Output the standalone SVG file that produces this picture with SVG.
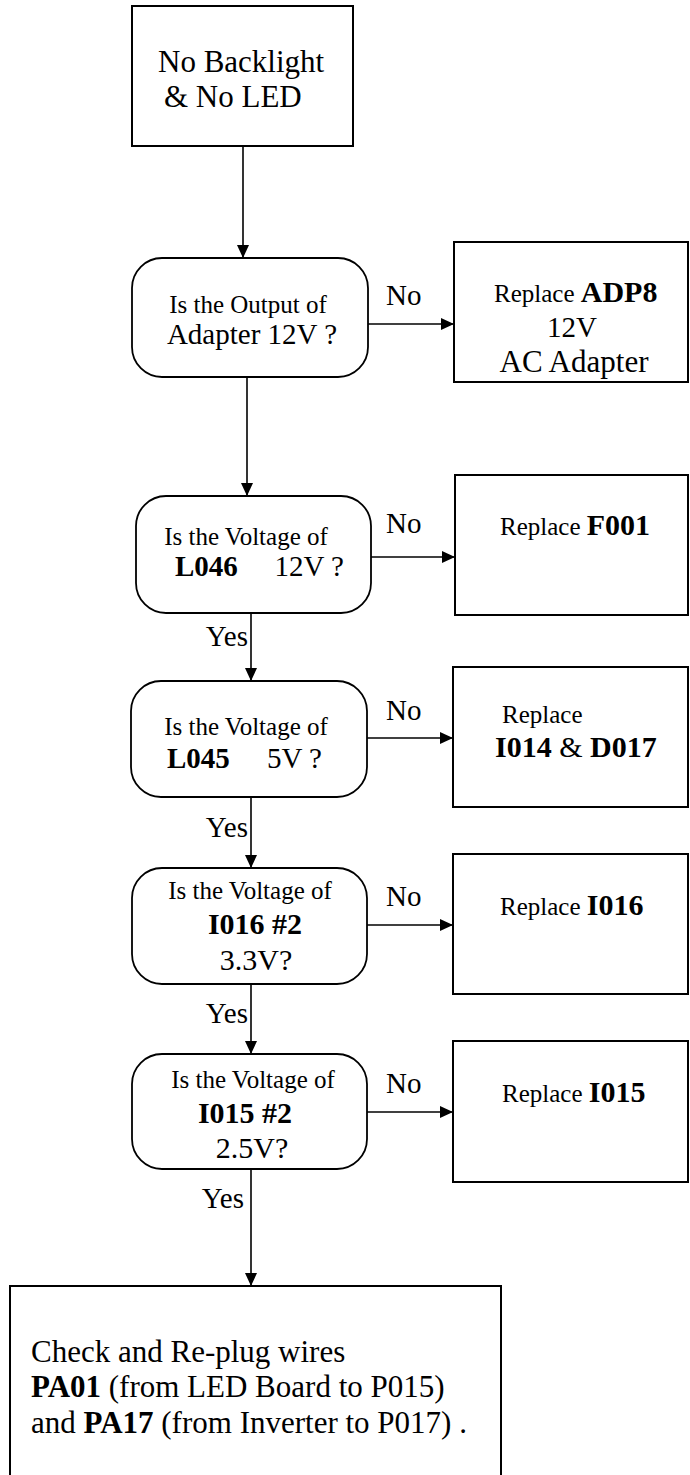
<svg xmlns="http://www.w3.org/2000/svg" width="690" height="1475" viewBox="0 0 690 1475">
<style>
text { font-family: "Liberation Serif", "Times New Roman", serif; fill: #000; }
.s { font-size: 25px; }
.m { font-size: 29px; }
.l { font-size: 31px; }
.b { font-weight: bold; }
.box { fill: #fff; stroke: #000; stroke-width: 2; }
.dec { fill: #fff; stroke: #000; stroke-width: 1.8; }
.edge { fill: none; stroke: #000; stroke-width: 1.6; }
</style>
<defs>
<marker id="ah" markerUnits="userSpaceOnUse" markerWidth="14" markerHeight="12" refX="13" refY="6" orient="auto">
<path d="M0,0 L13,6 L0,12 Z" fill="#000"/>
</marker>
</defs>
<rect width="690" height="1475" fill="#fff"/>

<g id="connectors">
<line class="edge" x1="243" y1="146" x2="243" y2="258" marker-end="url(#ah)"/>
<line class="edge" x1="368" y1="324" x2="454" y2="324" marker-end="url(#ah)"/>
<line class="edge" x1="247" y1="377" x2="247" y2="496" marker-end="url(#ah)"/>
<line class="edge" x1="371" y1="557" x2="455" y2="557" marker-end="url(#ah)"/>
<line class="edge" x1="251" y1="613" x2="251" y2="681" marker-end="url(#ah)"/>
<line class="edge" x1="367" y1="738" x2="453" y2="738" marker-end="url(#ah)"/>
<line class="edge" x1="251" y1="797" x2="251" y2="868" marker-end="url(#ah)"/>
<line class="edge" x1="367" y1="925" x2="453" y2="925" marker-end="url(#ah)"/>
<line class="edge" x1="251" y1="984" x2="251" y2="1054" marker-end="url(#ah)"/>
<line class="edge" x1="367" y1="1112" x2="453" y2="1112" marker-end="url(#ah)"/>
<line class="edge" x1="251" y1="1169" x2="251" y2="1286" marker-end="url(#ah)"/>
<text class="m" x="386" y="305">No</text>
<text class="m" x="386" y="533">No</text>
<text class="m" x="386" y="720">No</text>
<text class="m" x="386" y="906">No</text>
<text class="m" x="386" y="1093">No</text>
<text class="m" x="248" y="646" text-anchor="end">Yes</text>
<text class="m" x="248" y="837" text-anchor="end">Yes</text>
<text class="m" x="248" y="1023" text-anchor="end">Yes</text>
<text class="m" x="244" y="1208" text-anchor="end">Yes</text>
</g>

<g id="start">
<rect class="box" x="132" y="6" width="221" height="140"/>
<text class="l" x="158" y="72">No Backlight</text>
<text class="l" x="164" y="107">&amp; No LED</text>
</g>

<g id="q-adapter">
<rect class="dec" x="132" y="258" width="236" height="119" rx="30" ry="30"/>
<text class="s" x="248" y="313" text-anchor="middle">Is the Output of</text>
<text class="m" x="252" y="344" text-anchor="middle">Adapter 12V ?</text>
</g>

<g id="r-adapter">
<rect class="box" x="454" y="242" width="234" height="140"/>
<text x="494" y="302"><tspan class="s">Replace </tspan><tspan class="m b" style="font-size:30px">ADP8</tspan></text>
<text class="m" x="572" y="337" text-anchor="middle">12V</text>
<text class="m" x="574" y="372" text-anchor="middle" style="font-size:31px">AC Adapter</text>
</g>

<g id="q-l046">
<rect class="dec" x="136" y="496" width="235" height="117" rx="30" ry="30"/>
<text class="s" x="246" y="545" text-anchor="middle">Is the Voltage of</text>
<text class="m b" x="175" y="576">L046</text>
<text class="m" x="344" y="576" text-anchor="end">12V ?</text>
</g>

<g id="r-f001">
<rect class="box" x="455" y="475" width="233" height="140"/>
<text x="500" y="535"><tspan class="s">Replace </tspan><tspan class="m b" style="font-size:30px">F001</tspan></text>
</g>

<g id="q-l045">
<rect class="dec" x="131" y="681" width="236" height="116" rx="30" ry="30"/>
<text class="s" x="246" y="735" text-anchor="middle">Is the Voltage of</text>
<text class="m b" x="167" y="768">L045</text>
<text class="m" x="322" y="768" text-anchor="end">5V ?</text>
</g>

<g id="r-i014">
<rect class="box" x="453" y="667" width="235" height="140"/>
<text class="s" x="502" y="723">Replace</text>
<text x="495" y="757" style="font-size:30px"><tspan class="b">I014</tspan> &amp; <tspan class="b">D017</tspan></text>
</g>

<g id="q-i016">
<rect class="dec" x="132" y="868" width="235" height="116" rx="30" ry="30"/>
<text class="s" x="250" y="899" text-anchor="middle">Is the Voltage of</text>
<text class="m b" x="255" y="934" text-anchor="middle" style="font-size:30px">I016 #2</text>
<text class="m" x="256" y="970" text-anchor="middle" style="font-size:30px">3.3V?</text>
</g>

<g id="r-i016">
<rect class="box" x="453" y="854" width="235" height="140"/>
<text x="500" y="915"><tspan class="s">Replace </tspan><tspan class="b" style="font-size:30px">I016</tspan></text>
</g>

<g id="q-i015">
<rect class="dec" x="132" y="1054" width="235" height="115" rx="30" ry="30"/>
<text class="s" x="253" y="1088" text-anchor="middle">Is the Voltage of</text>
<text class="m b" x="245" y="1123" text-anchor="middle" style="font-size:30px">I015 #2</text>
<text class="m" x="252" y="1158" text-anchor="middle" style="font-size:30px">2.5V?</text>
</g>

<g id="r-i015">
<rect class="box" x="453" y="1041" width="235" height="141"/>
<text x="502" y="1102"><tspan class="s">Replace </tspan><tspan class="b" style="font-size:30px">I015</tspan></text>
</g>

<g id="check">
<rect class="box" x="10" y="1286" width="491" height="220"/>
<text class="l" x="31" y="1362">Check and Re-plug wires</text>
<text class="l" x="31" y="1397"><tspan class="b">PA01</tspan> (from LED Board to P015)</text>
<text class="l" x="31" y="1433">and <tspan class="b">PA17</tspan> (from Inverter to P017) .</text>
</g>
</svg>
